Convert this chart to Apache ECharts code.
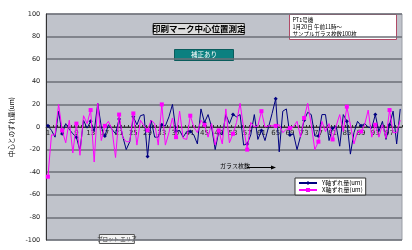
<!DOCTYPE html>
<html><head><meta charset="utf-8">
<script src="https://cdn.jsdelivr.net/npm/echarts@6/dist/echarts.min.js"></script>
<style>html,body{margin:0;padding:0;background:#fff}#c{width:412px;height:250px}</style>
</head><body><div id="c"></div>
<script>
const categories = Array.from({length:100},(_,i)=>String(i+1));
const yShift = [1,-3,-9,14,-6,3,-2,-6,-9,-21,6,-1,5,-4,21,0,-8,2,-2,-6,7,-8,-20,-13,9,2,10,11,-26,6,-9,-9,2,1,9,20,-4,-3,-9,-4,-4,-7,-15,16,4,11,0,-20,-4,-7,11,3,11,9,11,-16,-15,-7,11,-11,-3,-12,0,12,25,-22,14,16,-7,-6,-20,-8,6,13,11,-8,-8,11,11,-12,-1,1,-17,11,5,-24,-5,5,1,3,0,-1,11,-4,5,-11,2,14,-15,16];
const xShift = [-44,-7,-7,20,-3,-14,6,-23,3,-25,10,3,15,-31,21,-12,1,5,-2,-27,11,-9,-13,-13,12,-16,6,1,-3,6,3,-16,20,-16,-5,8,-9,14,-10,-11,10,0,-5,6,2,-9,3,-16,-3,-15,16,-14,-6,4,21,-1,-20,4,0,1,14,0,1,1,1,2,-5,-2,-1,0,5,-9,8,21,2,-20,-13,5,-4,3,-11,1,11,-4,18,2,-15,-4,-4,2,15,-9,2,-9,2,-10,15,-5,-5,6];
const seriesNames = ['Y軸ずれ量(um)','X軸ずれ量(um)'];
const yTicks = {min:-100,max:100,interval:20};
const FONT = '"Noto Sans CJK JP", sans-serif';

const chart = echarts.init(document.getElementById('c'),null,{renderer:'canvas'});
chart.setOption({
  animation:false,
  backgroundColor:'#fff',
  textStyle:{fontFamily:FONT},
  grid:{left:34,right:10,top:14,bottom:10,show:true,backgroundColor:'#c0c3cb',borderColor:'#9a9da5',borderWidth:1},
  legend:{
    orient:'vertical', left:295, top:178, itemWidth:18, itemHeight:5, itemGap:1,
    backgroundColor:'#fff', borderColor:'#333', borderWidth:1, padding:[2,3,2,3],
    textStyle:{fontSize:6, fontFamily:FONT, color:'#000'},
    data:[seriesNames[0],seriesNames[1]]
  },
  xAxis:{type:'category',data:categories,boundaryGap:true,position:'bottom',offset:-113,
    axisLine:{onZero:false,lineStyle:{color:'#333',width:1}},
    axisTick:{show:true,inside:true,length:2,interval:0,lineStyle:{color:'#333'}},
    axisLabel:{interval:3,fontSize:7,color:'#222',margin:3,fontFamily:'"DejaVu Sans", sans-serif'},
    splitLine:{show:false}},
  yAxis:{type:'value',min:yTicks.min,max:yTicks.max,interval:yTicks.interval,
    name:'中心とのずれ量(um)',nameLocation:'middle',nameRotate:90,nameGap:25,
    nameTextStyle:{fontSize:6.5,color:'#000',fontFamily:FONT},
    axisLine:{show:true,lineStyle:{color:'#333'}},
    axisTick:{show:false},
    axisLabel:{fontSize:6.5,color:'#222',margin:6,fontFamily:'"DejaVu Sans", sans-serif'},
    splitLine:{lineStyle:{color:'#6c6f77',width:1.5}}},
  series:[
    {name:seriesNames[0],type:'line',data:yShift,symbol:'diamond',symbolSize:4,
      lineStyle:{color:'#000080',width:1},itemStyle:{color:'#000080'},z:2},
    {name:seriesNames[1],type:'line',data:xShift,symbol:'rect',symbolSize:4,
      lineStyle:{color:'#ff00ff',width:1},itemStyle:{color:'#ff00ff'},z:3}
  ],
  graphic:[
    {type:'group',left:152,top:23,children:[
      {type:'rect',shape:{x:0,y:0,width:91,height:11},style:{fill:'#dcdcdc',stroke:'#222',lineWidth:1}},
      {type:'text',x:45.5,y:5.5,style:{text:'印刷マーク中心位置測定',fontSize:8.5,fontWeight:'bold',fill:'#000',fontFamily:FONT,align:'center',verticalAlign:'middle'}}
    ]},
    {type:'group',left:174,top:49,children:[
      {type:'rect',shape:{x:0,y:0,width:59,height:11},style:{fill:'#0c8080',stroke:'#0a5c5c',lineWidth:1}},
      {type:'text',x:29.5,y:5.5,style:{text:'補正あり',fontSize:6.5,fill:'#fff',fontFamily:FONT,align:'center',verticalAlign:'middle'}}
    ]},
    {type:'group',left:289,top:14,children:[
      {type:'rect',shape:{x:0,y:0,width:107,height:25},style:{fill:'#fff',stroke:'#b04a66',lineWidth:1}},
      {type:'text',x:3,y:1.5,style:{text:'PT1号機\n1月20日 午前11時～\nサンプルガラス枚数100枚',fontSize:5.5,lineHeight:7,fill:'#000',fontFamily:FONT}}
    ]},
    {type:'text',left:220,top:163,style:{text:'ガラス枚数',fontSize:6,fill:'#000',fontFamily:FONT}},
    {type:'line',shape:{x1:247,y1:167.5,x2:273,y2:167.5},style:{stroke:'#000',lineWidth:1}},
    {type:'polygon',shape:{points:[[276,167.5],[271,165.5],[271,169.5]]},style:{fill:'#000'}},
    {type:'group',left:97,top:234,children:[
      {type:'rect',shape:{x:0,y:0,width:35,height:9},style:{fill:'#f4f4f4',stroke:'#555',lineWidth:1}},
      {type:'text',x:17.5,y:4.5,style:{text:'プロット エリア',fontSize:5.5,fill:'#333',fontFamily:FONT,align:'center',verticalAlign:'middle'}}
    ]}
  ]
});
</script></body></html>
